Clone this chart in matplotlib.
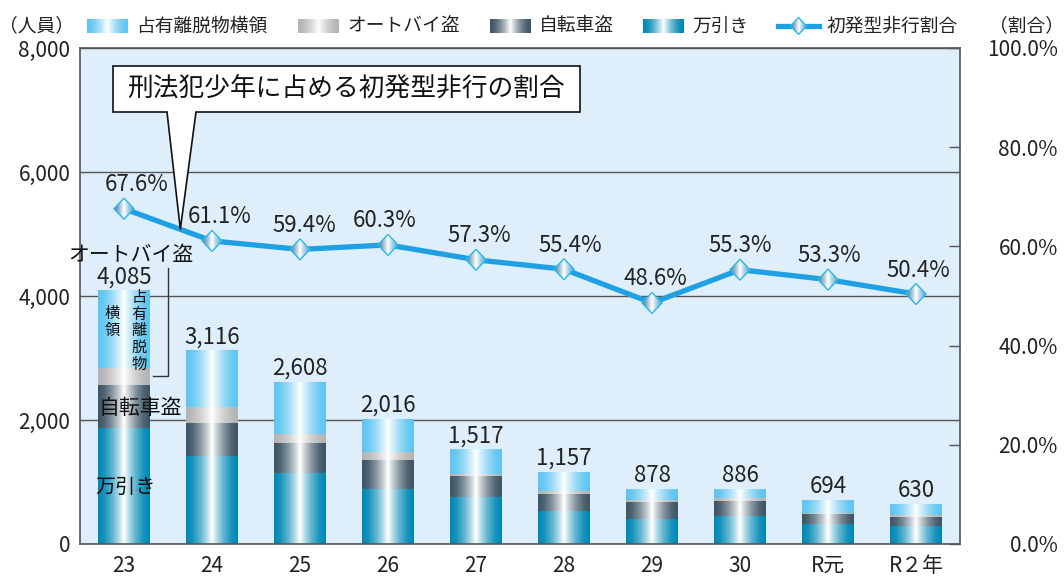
import numpy as np
import matplotlib
matplotlib.use("Agg")
import matplotlib.pyplot as plt
from matplotlib.patches import Polygon
from matplotlib.colors import to_rgb

plt.rcParams['font.family'] = ['Noto Sans CJK JP', 'DejaVu Sans']

# ---------------- data ----------------
categories = ['23', '24', '25', '26', '27', '28', '29', '30', 'R元', 'R２年']
manbiki = [1876, 1419, 1145, 887, 758, 532, 403, 452, 323, 290]          # 万引き
jitensha = [690, 533, 484, 468, 339, 274, 274, 247, 161, 145]            # 自転車盗
autobai = [274, 258, 145, 134, 27, 49, 38, 48, 16, 27]                   # オートバイ盗
totals = [4085, 3116, 2608, 2016, 1517, 1157, 878, 886, 694, 630]        # 合計
senyu = [t - a - b - c for t, a, b, c in zip(totals, manbiki, jitensha, autobai)]  # 占有離脱物横領
ratio = [67.6, 61.1, 59.4, 60.3, 57.3, 55.4, 48.6, 55.3, 53.3, 50.4]     # 初発型非行割合(%)
left_ticks = [0, 2000, 4000, 6000, 8000]
right_ticks = [0, 20, 40, 60, 80, 100]

series_names = ['万引き', '自転車盗', 'オートバイ盗', '占有離脱物横領']
series_vals = [manbiki, jitensha, autobai, senyu]
series_cols = ['#0088b4', '#3e5666', '#b4b4b4', '#5ec4f0']
line_col = '#1ea0e2'
bg_col = '#deeffb'
grid_col = '#555555'

W, H = 1064, 578
fig = plt.figure(figsize=(W / 100, H / 100), dpi=100)
ax = fig.add_axes([80 / W, 1 - 544 / H, 880 / W, 496 / H])
ax.set_facecolor(bg_col)


def grad(color, n=200, c=0.5, p=1.6, right=None):
    t = np.linspace(0, 1, n)
    d = np.clip(np.abs(t - c) / max(c, 1 - c), 0, 1)
    w = (1 - d) ** p
    c1 = np.array(to_rgb(color))
    c2 = np.array(to_rgb(right)) if right else c1
    base = np.where((t < c)[:, None], c1[None, :], c2[None, :])
    rgb = base * (1 - w[:, None]) + np.ones(3)[None, :] * w[:, None]
    return rgb[None, :, :]


x = np.arange(len(categories))
bw = 0.59
bottom = np.zeros(len(categories))
for name, vals, col in zip(series_names, series_vals, series_cols):
    bars = ax.bar(x, vals, bw, bottom=bottom, color='none', edgecolor='none', zorder=2)
    img = grad(col)
    for b in bars:
        x0, y0 = b.get_x(), b.get_y()
        ax.imshow(img, extent=(x0, x0 + b.get_width(), y0, y0 + b.get_height()),
                  aspect='auto', interpolation='bilinear', zorder=2)
    bottom += np.array(vals)

ax.set_xlim(-0.5, len(categories) - 0.5)
ax.set_ylim(0, 8000)
ax.set_axisbelow(True)
ax.yaxis.grid(True, color=grid_col, lw=1.0)
ax.set_yticks(left_ticks)
ax.set_yticklabels([f'{v:,}' for v in left_ticks])
ax.set_xticks(x)
ax.set_xticklabels(categories)
ax.tick_params(axis='y', length=0, pad=7, labelsize=15, colors='#222222')
ax.tick_params(axis='x', length=0, pad=8, labelsize=15, colors='#222222')
for s in ax.spines.values():
    s.set_color(grid_col)
    s.set_linewidth(1.2)

# value labels
for xi, t in zip(x, totals):
    ax.annotate(f'{t:,}', (xi, t), xytext=(0, 14), textcoords='offset pixels',
                ha='center', va='center', fontsize=16, color='#222222', zorder=5)

# right axis: ratio
ax2 = ax.twinx()
ax2.set_ylim(0, 100)
ax2.set_yticks(right_ticks)
ax2.set_yticklabels([f'{v:.1f}%' for v in right_ticks])
ax2.tick_params(axis='y', direction='in', length=8, width=1, color=grid_col,
                pad=70.5, labelsize=15, labelcolor='#222222')
for lab in ax2.get_yticklabels():
    lab.set_horizontalalignment('right')
for s in ax2.spines.values():
    s.set_visible(False)
ax2.plot(x, ratio, color=line_col, lw=3.8, solid_capstyle='round', zorder=3)
lab_dx = [13, 8, 4, -3, 3, 6, 3, 0, 1, 2]
for xi, r, dx in zip(x, ratio, lab_dx):
    ax2.annotate(f'{r:.1f}%', (xi, r), xytext=(dx, 24), textcoords='offset pixels',
                 ha='center', va='center', fontsize=16, color='#222222', zorder=6)

# ---------------- overlay in pixel coords ----------------
ov = fig.add_axes([0, 0, 1, 1], zorder=10)
ov.set_xlim(0, W)
ov.set_ylim(H, 0)
ov.axis('off')
ov.patch.set_alpha(0)


def to_px(axis, xv, yv):
    dx, dy = axis.transData.transform((xv, yv))
    return dx, H - dy


diam_img = grad('#4d7f9f', right='#5aa6d0', p=1.2)


def diamond(cx, cy, hw, hh):
    verts = [(cx - hw, cy), (cx, cy - hh), (cx + hw, cy), (cx, cy + hh)]
    poly = Polygon(verts, closed=True, facecolor='none', edgecolor='#29b8ee', lw=1.0, zorder=12)
    ov.add_patch(poly)
    im = ov.imshow(diam_img, extent=(cx - hw, cx + hw, cy + hh, cy - hh), aspect='auto',
                   interpolation='bilinear', zorder=11)
    im.set_clip_path(poly)


for xi, r in zip(x, ratio):
    px, py = to_px(ax2, xi, r)
    diamond(px, py, 10, 10.5)
ov.set_xlim(0, W)
ov.set_ylim(H, 0)

# callout
tip = to_px(ax2, 0.64, ratio[0] + 0.64 * (ratio[1] - ratio[0]))
callout = Polygon([(113, 66), (580, 66), (580, 112), (196, 112), tip, (167, 112), (113, 112)],
                  closed=True, facecolor='white', edgecolor='#111111', lw=1.2, zorder=13)
ov.add_patch(callout)
ov.text(346, 89, '刑法犯少年に占める初発型非行の割合', ha='center', va='center',
        fontsize=18.5, color='#111111', zorder=14)

# labels inside first bar
ov.text(131, 255, 'オートバイ盗', ha='center', va='center', fontsize=15, color='#111111', zorder=14)
ov.plot([168, 168, 153], [268, 376, 376], color='#333333', lw=1.0, zorder=14)
ov.text(139, 331, '占\n有\n離\n脱\n物', ha='center', va='center', fontsize=11,
        linespacing=0.98, color='#111111', zorder=14)
ov.text(112, 322, '横\n領', ha='center', va='center', fontsize=11,
        linespacing=0.98, color='#111111', zorder=14)
ov.text(140, 408, '自転車盗', ha='center', va='center', fontsize=15, color='#111111', zorder=14)
ov.text(126, 487, '万引き', ha='center', va='center', fontsize=14.5, color='#111111', zorder=14)

# legend
ly = 26
ov.text(37, ly, '（人員）', ha='center', va='center', fontsize=13.5, color='#222222')
ov.text(1026, ly, '（割合）', ha='center', va='center', fontsize=13.5, color='#222222')
leg_sq = [(87, '占有離脱物横領', series_cols[3]), (298, 'オートバイ盗', series_cols[2]),
          (490, '自転車盗', series_cols[1]), (643, '万引き', series_cols[0])]
for lx, name, col in leg_sq:
    ov.imshow(grad(col), extent=(lx, lx + 41, ly + 7, ly - 7), aspect='auto',
              interpolation='bilinear', zorder=11)
    ov.text(lx + 49, ly, name, ha='left', va='center', fontsize=13.5, color='#222222')
ov.plot([778, 819], [ly, ly], color=line_col, lw=3.8, zorder=11)
diamond(798.5, ly, 8, 8.5)
ov.text(827, ly, '初発型非行割合', ha='left', va='center', fontsize=13.5, color='#222222')
ov.set_xlim(0, W)
ov.set_ylim(H, 0)

fig.savefig('out.png', dpi=100)
